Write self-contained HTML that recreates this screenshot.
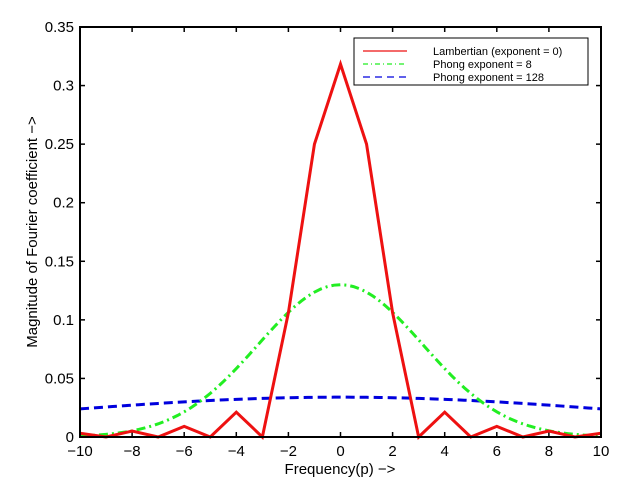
<!DOCTYPE html><html><head><style>body{margin:0;background:#fff}svg{display:block}text{font-family:"Liberation Sans",sans-serif}</style></head><body>
<svg id="s" width="626" height="488" xmlns="http://www.w3.org/2000/svg"></svg>
<script>
const L=80,R=601,T=27,B=437;
const X=p=>L+(p+10)*(R-L)/20, Y=v=>B-v*(B-T)/0.35;
let s='<rect x="0" y="0" width="626" height="488" fill="#fff"/>';
// ticks
for(let p=-10;p<=10;p+=2){const x=X(p);s+=`<line x1="${x}" y1="${B}" x2="${x}" y2="${B-5}" stroke="#000" stroke-width="1.5"/><line x1="${x}" y1="${T}" x2="${x}" y2="${T+5}" stroke="#000" stroke-width="1.5"/>`;
s+=`<text x="${x}" y="${B+19}" font-size="15" text-anchor="middle">${p<0?'\u2212'+(-p):p}</text>`;}
for(let i=0;i<=7;i++){const v=i*0.05,y=Y(v);s+=`<line x1="${L}" y1="${y}" x2="${L+5}" y2="${y}" stroke="#000" stroke-width="1.5"/><line x1="${R}" y1="${y}" x2="${R-5}" y2="${y}" stroke="#000" stroke-width="1.5"/>`;
s+=`<text x="${L-6}" y="${y+5}" font-size="15" text-anchor="end">${i==0?'0':+v.toFixed(2)}</text>`;}
// series
let r=[],g=[],b=[];
for(let p=-10;p<=10;p++){const a=Math.abs(p);let v;if(a==0)v=1/Math.PI;else if(a==1)v=0.25;else if(a%2)v=0;else v=1/((a*a-1)*Math.PI);r.push(X(p)+','+Y(v));}
for(let q=-10;q<=10.001;q+=0.25){g.push(X(q)+','+Y(0.13*Math.exp(-q*q/20)));b.push(X(q)+','+Y(0.034*Math.exp(-q*q/286)));}
s+=`<polyline points="${b.join(' ')}" fill="none" stroke="#0000dd" stroke-width="3" stroke-dasharray="9,5"/>`;
s+=`<polyline points="${g.join(' ')}" fill="none" stroke="#22ee22" stroke-width="3" stroke-dasharray="9,4,2,4"/>`;
s+=`<polyline points="${r.join(' ')}" fill="none" stroke="#ee1111" stroke-width="3"/>`;
s+=`<rect x="${L}" y="${T}" width="${R-L}" height="${B-T}" fill="none" stroke="#000" stroke-width="2"/>`;
// legend
s+=`<rect x="354" y="38" width="234" height="47" fill="#fff" stroke="#000" stroke-width="1"/>`;
s+=`<line x1="363" y1="51" x2="407" y2="51" stroke="#ee1111" stroke-width="1.2"/>`;
s+=`<line x1="363" y1="64" x2="407" y2="64" stroke="#22ee22" stroke-width="1.2" stroke-dasharray="5,3,1,3"/>`;
s+=`<line x1="363" y1="77" x2="407" y2="77" stroke="#0000dd" stroke-width="1.2" stroke-dasharray="7,5"/>`;
s+=`<text x="433" y="55" font-size="11">Lambertian (exponent = 0)</text><text x="433" y="68" font-size="11">Phong exponent = 8</text><text x="433" y="81" font-size="11">Phong exponent = 128</text>`;
s+=`<text x="340" y="474" font-size="15" text-anchor="middle">Frequency(p) \u2212&gt;</text>`;
s+=`<text transform="translate(37,232) rotate(-90)" font-size="15" text-anchor="middle">Magnitude of Fourier coefficient \u2212&gt;</text>`;
document.getElementById('s').innerHTML=s;
</script></body></html>
